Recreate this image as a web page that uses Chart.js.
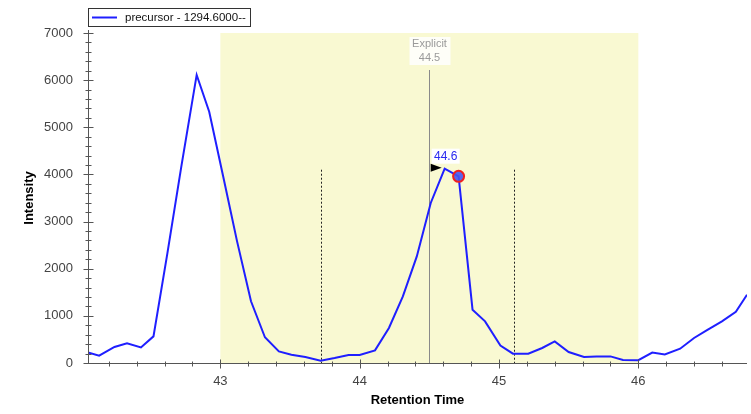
<!DOCTYPE html>
<html>
<head>
<meta charset="utf-8">
<script src="https://cdn.jsdelivr.net/npm/chart.js@4.4.1/dist/chart.umd.min.js"></script>
<style>
  html, body { margin: 0; padding: 0; background: #fff; }
  #wrap { width: 751px; height: 414px; }
</style>
</head>
<body>
<div id="wrap"><canvas id="chromChart" width="751" height="414"></canvas></div>
<script>
// chromatogram trace
const retentionTimes = [
  42.05, 42.13, 42.24, 42.33, 42.43, 42.52, 42.62, 42.72, 42.83, 42.92,
  43.02, 43.12, 43.22, 43.32, 43.42, 43.51, 43.61, 43.72, 43.82, 43.92,
  44.00, 44.11, 44.21, 44.31, 44.41, 44.51, 44.61, 44.71, 44.81, 44.90,
  45.01, 45.10, 45.21, 45.31, 45.40, 45.50, 45.61, 45.70, 45.80, 45.89,
  46.00, 46.10, 46.19, 46.30, 46.40, 46.49, 46.60, 46.70, 46.78
];
const intensities = [
  225, 155, 340, 416, 331, 565, 2330, 4170, 6110, 5330,
  3960, 2580, 1310, 545, 246, 176, 127, 49, 106, 170,
  170, 268, 742, 1413, 2261, 3394, 4122, 3959, 1130, 883,
  370, 197, 197, 318, 458, 233, 127, 140, 140, 64,
  60, 220, 183, 303, 530, 692, 883, 1088, 1449
];
const seriesLabel = 'precursor - 1294.6000--';

const xTickValues = [43, 44, 45, 46];
const yTickValues = [0, 1000, 2000, 3000, 4000, 5000, 6000, 7000];

// integration window, boundaries and markers
const windowRange = [43, 46];
const boundaryTimes = [43.72, 45.105];
const boundaryTop = 4100;
const explicitTime = 44.5;
const apexTime = 44.61;
const selectedTime = 44.71;

const traceColor = '#1f1fff';

const trace = retentionTimes.map((t, i) => ({ x: t, y: intensities[i] }));
const apexPoint = trace.find(p => p.x === apexTime);
const selectedPoint = trace.find(p => p.x === selectedTime);

// keep the plot area pinned to 88..747 horizontally
const pinArea = {
  id: 'pinArea',
  afterLayout(chart) {
    const x = chart.scales.x;
    const right = chart.width - 4;
    x.right = right;
    x.width = right - x.left;
    x.configure();
    chart.chartArea.right = right;
    chart.chartArea.width = right - chart.chartArea.left;
  }
};

const overlay = {
  id: 'overlay',
  beforeDatasetsDraw(chart) {
    const { ctx, chartArea: a, scales: { x, y } } = chart;
    ctx.save();
    // shaded window
    const x0 = x.getPixelForValue(windowRange[0]);
    const x1 = x.getPixelForValue(windowRange[1]);
    ctx.fillStyle = '#f9f9d2';
    ctx.fillRect(x0, a.top, x1 - x0, a.bottom - a.top);

    // explicit retention time line + label
    const ex = Math.round(x.getPixelForValue(explicitTime)) + 0.5;
    ctx.strokeStyle = '#8a8a8a';
    ctx.lineWidth = 1;
    ctx.beginPath();
    ctx.moveTo(ex, a.top + 37);
    ctx.lineTo(ex, a.bottom);
    ctx.stroke();
    ctx.fillStyle = 'rgba(255,255,255,0.85)';
    ctx.fillRect(ex - 20, a.top + 4, 41, 28);
    ctx.fillStyle = '#9a9a9a';
    ctx.font = '11px "Liberation Sans", Arial, sans-serif';
    ctx.textAlign = 'center';
    ctx.textBaseline = 'middle';
    ctx.fillText('Explicit', ex, a.top + 11);
    ctx.fillText(explicitTime.toFixed(1), ex, a.top + 25);

    // peak boundaries
    ctx.strokeStyle = '#222';
    ctx.setLineDash([2, 2]);
    const by = y.getPixelForValue(boundaryTop);
    boundaryTimes.forEach(t => {
      const bx = Math.round(x.getPixelForValue(t)) + 0.5;
      ctx.beginPath();
      ctx.moveTo(bx, by);
      ctx.lineTo(bx, a.bottom);
      ctx.stroke();
    });
    ctx.restore();
  },
  afterDatasetsDraw(chart) {
    const { ctx, scales: { x, y } } = chart;
    ctx.save();
    // apex label with arrow
    const px = x.getPixelForValue(apexPoint.x);
    const py = y.getPixelForValue(apexPoint.y);
    ctx.fillStyle = '#000';
    ctx.beginPath();
    ctx.moveTo(px - 14, py - 5);
    ctx.lineTo(px - 3, py - 1);
    ctx.lineTo(px - 14, py + 3);
    ctx.closePath();
    ctx.fill();
    ctx.fillStyle = '#fff';
    ctx.fillRect(px - 13, py - 20, 28, 15);
    ctx.fillStyle = '#2a2af0';
    ctx.font = '12px "Liberation Sans", Arial, sans-serif';
    ctx.textAlign = 'center';
    ctx.textBaseline = 'middle';
    ctx.fillText(apexPoint.x.toFixed(1), px + 1, py - 12);
    ctx.restore();
  },
  afterDraw(chart) {
    const { ctx, chartArea: a, scales: { x, y } } = chart;
    ctx.save();
    ctx.strokeStyle = '#555';
    ctx.lineWidth = 1;
    const ax = a.left + 0.5;
    const ay = Math.round(a.bottom) + 0.5;
    ctx.beginPath();
    ctx.moveTo(ax, a.top - 3);
    ctx.lineTo(ax, ay);
    ctx.lineTo(a.right, ay);
    // y ticks: major every 1000, minor every 200
    for (let v = 0; v <= 7000; v += 200) {
      const ty = Math.round(y.getPixelForValue(v)) + 0.5;
      const major = v % 1000 === 0;
      ctx.moveTo(ax - (major ? 5 : 3), ty);
      ctx.lineTo(ax + (major ? 5 : 3), ty);
    }
    // x ticks: major every 1, minor every 0.2
    for (let k = 211; k <= 233; k++) {
      const v = k / 5;
      const tx = Math.round(x.getPixelForValue(v)) + 0.5;
      const major = k % 5 === 0;
      ctx.moveTo(tx, ay - (major ? 4 : 2));
      ctx.lineTo(tx, ay + (major ? 5 : 3));
    }
    ctx.stroke();

    // legend box
    ctx.fillStyle = '#fff';
    ctx.fillRect(88.5, 8.5, 162, 18);
    ctx.strokeStyle = '#333';
    ctx.strokeRect(88.5, 8.5, 162, 18);
    ctx.strokeStyle = traceColor;
    ctx.lineWidth = 2;
    ctx.beginPath();
    ctx.moveTo(92, 17.5);
    ctx.lineTo(117, 17.5);
    ctx.stroke();
    ctx.fillStyle = '#111';
    ctx.font = '11.5px "Liberation Sans", Arial, sans-serif';
    ctx.textAlign = 'left';
    ctx.textBaseline = 'middle';
    ctx.fillText(seriesLabel, 125, 18);
    ctx.restore();
  }
};

new Chart(document.getElementById('chromChart'), {
  type: 'line',
  data: {
    datasets: [
      {
        label: 'selected',
        data: [selectedPoint],
        showLine: false,
        pointRadius: 5.5,
        pointBorderWidth: 2,
        pointBorderColor: '#f02020',
        pointBackgroundColor: 'rgba(70,85,240,0.9)'
      },
      {
        label: seriesLabel,
        data: trace,
        borderColor: traceColor,
        borderWidth: 2,
        pointRadius: 0,
        tension: 0,
        fill: false
      }
    ]
  },
  options: {
    responsive: false,
    animation: false,
    devicePixelRatio: 1,
    events: [],
    layout: { padding: { top: 33, right: 4, left: 0, bottom: 0 } },
    plugins: { legend: { display: false }, tooltip: { enabled: false } },
    scales: {
      x: {
        type: 'linear',
        min: 42.05,
        max: 46.78,
        grid: { display: false, drawTicks: false },
        border: { display: false },
        afterBuildTicks: s => { s.ticks = xTickValues.map(v => ({ value: v })); },
        afterFit: s => { s.height = 51; },
        ticks: {
          autoSkip: false,
          maxRotation: 0,
          padding: 11,
          color: '#444',
          font: { family: '"Liberation Sans", Arial, sans-serif', size: 13 },
          callback: v => String(v)
        },
        title: {
          display: true,
          text: 'Retention Time',
          color: '#000',
          padding: { top: 0, bottom: 6 },
          font: { family: '"Liberation Sans", Arial, sans-serif', size: 13, weight: 'bold' }
        }
      },
      y: {
        min: 0,
        max: 7000,
        grid: { display: false, drawTicks: false },
        border: { display: false },
        afterBuildTicks: s => { s.ticks = yTickValues.map(v => ({ value: v })); },
        afterFit: s => { s.width = 88; },
        ticks: {
          padding: 15,
          color: '#444',
          font: { family: '"Liberation Sans", Arial, sans-serif', size: 13 },
          callback: v => String(v)
        },
        title: {
          display: true,
          text: 'Intensity',
          color: '#000',
          padding: { top: 22, bottom: 0 },
          font: { family: '"Liberation Sans", Arial, sans-serif', size: 13, weight: 'bold' }
        }
      }
    }
  },
  plugins: [pinArea, overlay]
});
</script>
</body>
</html>
